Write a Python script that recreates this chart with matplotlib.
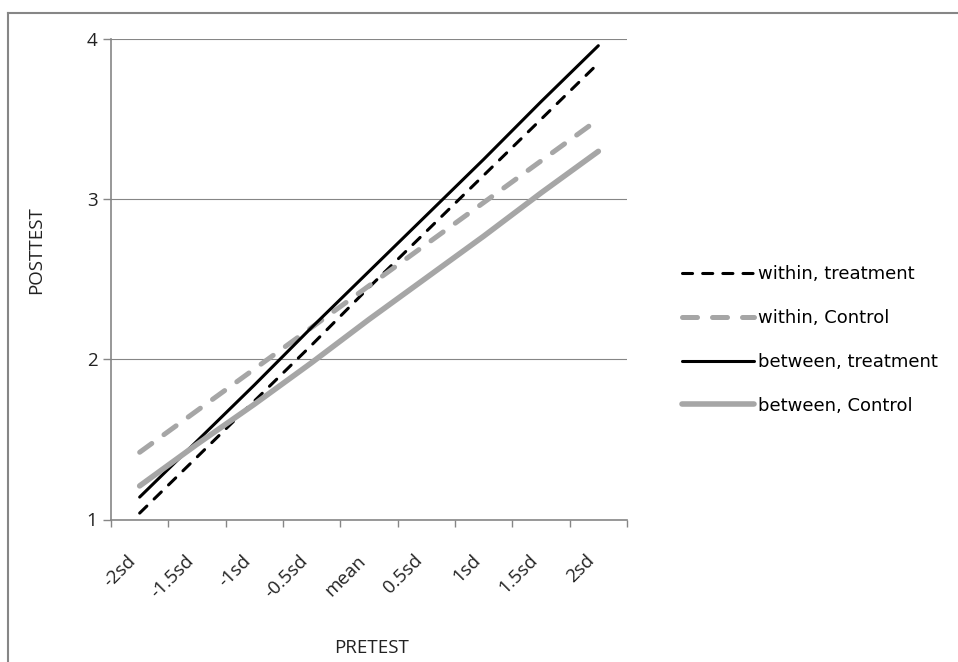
import matplotlib.pyplot as plt
from matplotlib.lines import Line2D

plt.rcParams['font.family'] = ['Open Sans', 'DejaVu Sans']

# values
categories = ['-2sd', '-1.5sd', '-1sd', '-0.5sd', 'mean', '0.5sd', '1sd', '1.5sd', '2sd']
within_treatment = [1.04, 1.39, 1.74, 2.09, 2.45, 2.80, 3.15, 3.50, 3.85]
within_control = [1.42, 1.68, 1.94, 2.20, 2.46, 2.72, 2.98, 3.24, 3.50]
between_treatment = [1.14, 1.49, 1.84, 2.20, 2.55, 2.90, 3.25, 3.61, 3.96]
between_control = [1.21, 1.47, 1.72, 1.98, 2.25, 2.51, 2.77, 3.04, 3.30]
yticks = [1, 2, 3, 4]

W, H = 958, 662
axc = '#868686'
grey = '#A6A6A6'
txt = '#222222'

fig = plt.figure(figsize=(W / 100, H / 100), dpi=100)
ax = fig.add_axes([111 / W, 1 - 519.5 / H, 516 / W, 480.2 / H])

x = list(range(len(categories)))
l1, = ax.plot(x, within_treatment, color='black', lw=2.2, dashes=(3.3, 3.3),
              dash_capstyle='round', label='within, treatment')
l2, = ax.plot(x, within_control, color=grey, lw=3.6, dashes=(3, 3),
              dash_capstyle='round', label='within, Control')
l3, = ax.plot(x, between_treatment, color='black', lw=2.2,
              solid_capstyle='round', label='between, treatment')
l4, = ax.plot(x, between_control, color=grey, lw=4.0,
              solid_capstyle='round', label='between, Control')

ax.set_xlim(-0.5, len(categories) - 0.5)
ax.set_ylim(1, 4)
ax.set_yticks(yticks)
ax.set_yticklabels([str(v) for v in yticks], fontsize=13.5, color=txt)
ax.yaxis.grid(True, color=axc, lw=0.8)
ax.set_axisbelow(True)

ax.set_xticks(x)
ax.set_xticklabels(categories, rotation=45, ha='right', va='top', fontsize=13.5,
                   color=txt)
ax.set_xticks([i - 0.5 for i in range(len(categories) + 1)], minor=True)
ax.tick_params(axis='x', which='major', length=0, pad=23)
ax.tick_params(axis='x', which='minor', length=5, color=axc, width=1, direction='out')
ax.tick_params(axis='y', length=5.8, color=axc, width=1, direction='out', pad=4)

for s in ['top', 'right']:
    ax.spines[s].set_visible(False)
for s in ['left', 'bottom']:
    ax.spines[s].set_color(axc)
    ax.spines[s].set_linewidth(1.2)

fig.text(372 / W, 1 - 648 / H, 'PRETEST', ha='center', va='center', fontsize=13.5,
         color=txt)
fig.text(36 / W, 1 - 250 / H, 'POSTTEST', ha='center', va='center', rotation=90,
         fontsize=13.5, color=txt)

fig.legend(handles=[l1, l2, l3, l4], loc='center left',
           bbox_to_anchor=(682 / W, 1 - 340 / H), frameon=False,
           prop={'family': 'DejaVu Sans', 'size': 13}, handlelength=4.0,
           handletextpad=0.2, labelspacing=1.43, borderpad=0, borderaxespad=0)

# outer chart frame (cut off at right and bottom)
fig.add_artist(Line2D([8 / W, 8 / W], [1 - 13 / H, 0], transform=fig.transFigure,
                      color=axc, lw=1.5))
fig.add_artist(Line2D([8 / W, 1], [1 - 13 / H, 1 - 13 / H], transform=fig.transFigure,
                      color=axc, lw=1.5))

fig.savefig('out.png', dpi=100)
